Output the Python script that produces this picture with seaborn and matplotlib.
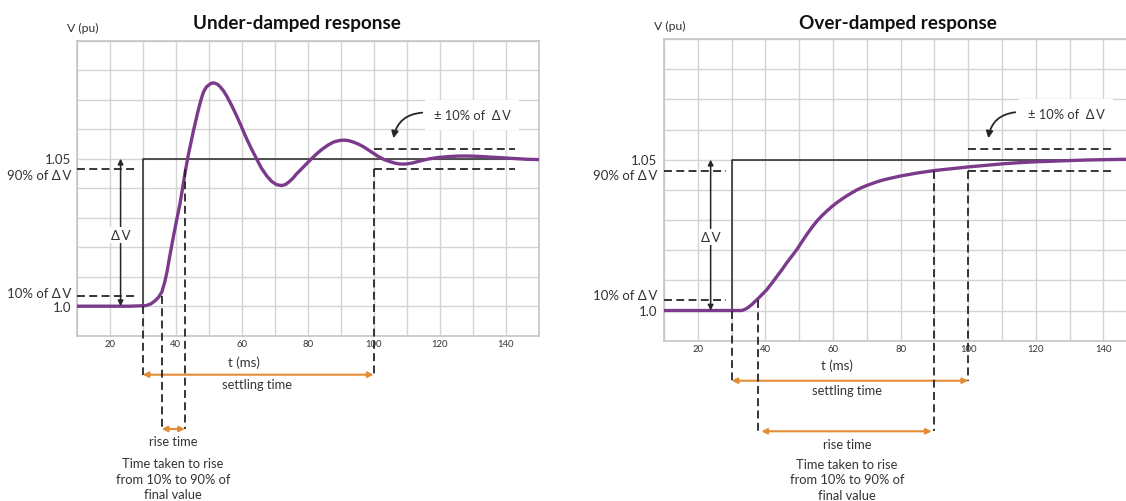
import numpy as np
import matplotlib
matplotlib.use("Agg")
import matplotlib.pyplot as plt
import seaborn as sns

# ---------------- data ----------------
t_under = [10, 20, 26, 31, 32.5, 33.7, 34.8, 35.8, 36.6, 37.3, 38.3, 39.3, 40.3, 41.3,
           42.1, 42.8, 43.8, 45.4, 46.9, 47.7, 48.4, 49.3, 50.4, 51.2, 51.9, 52.7,
           53.4, 54.5, 55.5, 57, 58.5, 60, 61.5, 63, 64.5, 66, 67.6, 69, 70.6, 72.1,
           73.2, 74.1, 75.4, 76.7, 78.2, 79.7, 81.2, 82.7, 84.5, 86.3, 88, 89.8,
           91.2, 92.5, 94, 95.5, 97, 98.5, 100, 101.5, 103.2, 105, 106.5, 108,
           109.8, 111.6, 114, 116.6, 119.6, 122.6, 125.6, 128.6, 131.6, 134.6,
           137.6, 140.6, 143.6, 146.6, 150]
v_under = [1.0, 1.0, 1.0, 1.0002, 1.0008, 1.0018, 1.003, 1.0048, 1.0078, 1.0112,
           1.0175, 1.0235, 1.0292, 1.0347, 1.04, 1.0449, 1.0511, 1.0595, 1.0667,
           1.07, 1.0725, 1.0743, 1.0753, 1.0757, 1.0756, 1.0752, 1.0745, 1.073,
           1.0712, 1.068, 1.0645, 1.0607, 1.0568, 1.0533, 1.05, 1.0468, 1.0442,
           1.0424, 1.0412, 1.0409, 1.0412, 1.0419, 1.0432, 1.0449, 1.0466, 1.0483,
           1.05, 1.0516, 1.0533, 1.0547, 1.0557, 1.0562, 1.0563, 1.0561, 1.0556,
           1.0549, 1.054, 1.0529, 1.0518, 1.0507, 1.0497, 1.049, 1.0485, 1.0482,
           1.0482, 1.0485, 1.0492, 1.0499, 1.0504, 1.0507, 1.0509, 1.0509, 1.0508,
           1.0506, 1.0504, 1.0502, 1.05, 1.0498, 1.0497]

t_over = [10, 20, 30, 33, 34, 35, 36, 37, 37.7, 39, 40.4, 42, 43.4, 45, 46.3, 47.8,
          49.3, 50.8, 52.3, 53.8, 55.2, 56.7, 58.2, 59.7, 61.2, 62.7, 64.2, 65.7,
          67.1, 68.6, 70.1, 71.6, 73.1, 74.6, 76, 78, 80, 82.5, 85, 87.5, 90, 95,
          100, 105, 110, 115, 120, 125, 130, 135, 140, 145, 150]
v_over = [1.0, 1.0, 1.0, 1.0, 1.0004, 1.0011, 1.002, 1.0031, 1.0038, 1.0053, 1.0069,
          1.0092, 1.0113, 1.0137, 1.0158, 1.018, 1.0202, 1.0228, 1.0253, 1.0276,
          1.0296, 1.0314, 1.033, 1.0345, 1.0358, 1.037, 1.0381, 1.0391, 1.04,
          1.0408, 1.0415, 1.0421, 1.0427, 1.0432, 1.0436, 1.0441, 1.0446, 1.0451,
          1.0456, 1.046, 1.0464, 1.047, 1.0476, 1.0481, 1.0486, 1.049, 1.0493,
          1.0495, 1.0497, 1.0499, 1.05, 1.0501, 1.0501]

t_step = [10, 30, 30, 150]
v_step = [1.0, 1.0, 1.05, 1.05]

x_ticks = [10, 20, 30, 40, 50, 60, 70, 80, 90, 100, 110, 120, 130, 140, 150]
x_ticklabels = ["", "20", "", "40", "", "60", "", "80", "", "100", "", "120", "", "140", ""]
y_grid = [0.99, 1.0, 1.01, 1.02, 1.03, 1.04, 1.05, 1.06, 1.07, 1.08, 1.09]
DV = "\u0394\u2009V"
y_labels = ["1.05", "90% of " + DV, "10% of " + DV, "1.0"]
expl_lines = ["Time taken to rise", "from 10% to 90% of", "final value"]

level_10 = 1.0036
level_90 = 1.0464
band_hi = 1.0534
step_t = 30
settle_t = 100
band_end = 143
rise_under = (35.8, 42.8)
rise_over = (37.7, 90.0)

# ---------------- style ----------------
sns.set_theme(style="white")
plt.rcParams["font.family"] = ["Lato", "DejaVu Sans"]

W, H = 1126, 502
PURPLE = "#7b3a8c"
ORANGE = "#e38b35"
DARK = "#262626"
TXT = "#333333"
GRID = "#d4d4d4"
DASH = (0, (4.4, 2.4))

fig = plt.figure(figsize=(W / 100, H / 100), dpi=100)


def rect(l, t, r, b):
    return [l / W, 1 - b / H, (r - l) / W, (b - t) / H]


def fp(px, py):
    return (px / W, 1 - py / H)


def ydata(ax, py):
    return ax.transData.inverted().transform((0, H - py))[1]


axL = fig.add_axes(rect(76.7, 41.7, 538.5, 336.7))
axR = fig.add_axes(rect(664, 40, 664 + 140 * 3.38, 341.7))


def base(ax, t, v):
    ax.set_xlim(10, 150)
    ax.set_ylim(0.99, 1.09)
    ax.set_xticks(x_ticks)
    ax.set_xticklabels(x_ticklabels, fontsize=6.8, color=TXT)
    ax.set_yticks(y_grid)
    ax.set_yticklabels([])
    ax.tick_params(length=0, pad=2.5)
    ax.grid(True, color=GRID, lw=1.0)
    for s in ax.spines.values():
        s.set_color("#c6c6c6")
        s.set_linewidth(1.2)
    sns.lineplot(x=t_step, y=v_step, ax=ax, color=DARK, linewidth=1.1,
                 sort=False, estimator=None, zorder=3)
    sns.lineplot(x=t, y=v, ax=ax, color=PURPLE, linewidth=2.4, sort=False,
                 estimator=None, zorder=4, solid_capstyle="round",
                 solid_joinstyle="round")
    ax.set_xlabel("")
    ax.set_ylabel("")


base(axL, t_under, v_under)
base(axR, t_over, v_over)


def dash(ax, xs, ys):
    ax.plot(xs, ys, color=DARK, lw=1.3, linestyle=DASH, clip_on=False, zorder=5)


def panel(ax, rise, dv_t, lvl_end, ypx, title, title_x, lab_r, lab_y, vpu, dvlab,
          pm_txt, pm_arrow):
    dash(ax, [10, lvl_end], [level_90, level_90])
    dash(ax, [10, lvl_end], [level_10, level_10])
    dash(ax, [settle_t, band_end], [band_hi, band_hi])
    dash(ax, [settle_t, band_end], [level_90, level_90])
    y_settle = ydata(ax, ypx["settle"])
    y_rise = ydata(ax, ypx["rise"])
    dash(ax, [step_t, step_t], [1.0, y_settle])
    dash(ax, [settle_t, settle_t], [level_90, y_settle])
    dash(ax, [rise[0], rise[0]], [level_10, y_rise])
    dash(ax, [rise[1], rise[1]], [level_90, y_rise])
    ax.annotate("", xy=(dv_t, 1.05), xytext=(dv_t, 1.0), zorder=6,
                arrowprops=dict(arrowstyle="<|-|>", color=DARK, lw=1.1,
                                mutation_scale=8, shrinkA=0, shrinkB=0))
    fig.text(*fp(*dvlab), DV, fontsize=9.5, color=TXT, ha="center",
             va="center", zorder=7,
             bbox=dict(facecolor="white", edgecolor="none", pad=1.2))
    ax.annotate("", xy=(settle_t, y_settle), xytext=(step_t, y_settle),
                annotation_clip=False,
                arrowprops=dict(arrowstyle="<|-|>", color=ORANGE, lw=1.5,
                                mutation_scale=8, shrinkA=0, shrinkB=0))
    ax.annotate("", xy=(ypx["rise_x"][1], y_rise), xytext=(ypx["rise_x"][0], y_rise),
                annotation_clip=False,
                arrowprops=dict(arrowstyle="<|-|>", color=ORANGE, lw=1.5,
                                mutation_scale=8, shrinkA=0, shrinkB=0))
    fig.text(*fp(ypx["settle_txt_x"], ypx["settle"] + 9), "settling time",
             fontsize=9.3, color=TXT, ha="center", va="center")
    fig.text(*fp(ypx["rise_txt_x"], ypx["rise"] + 12.5), "rise time",
             fontsize=9.3, color=TXT, ha="center", va="center")
    for i, line in enumerate(expl_lines):
        fig.text(*fp(ypx["rise_txt_x"], ypx["expl"] + 15.5 * i), line,
                 fontsize=9.3, color=TXT, ha="center", va="center")
    fig.text(*fp(ypx["t_x"], ypx["t_y"]), "t (ms)", fontsize=9.5, color=TXT,
             ha="center", va="center")
    fig.text(*fp(title_x, 23), title, fontsize=13.6, fontweight="bold",
             color="#111111", ha="center", va="center")
    fig.text(*fp(*vpu), "V (pu)", fontsize=8.8, color=TXT, ha="center", va="center")
    for lab, yy in zip(y_labels, lab_y):
        fig.text(*fp(lab_r, yy), lab, fontsize=9.5, color=TXT, ha="right",
                 va="center")
    fig.text(*fp(*pm_txt), "\u00b1 10% of  " + DV, fontsize=9.3, color=TXT,
             ha="center", va="center", zorder=7,
             bbox=dict(facecolor="white", edgecolor="none",
                       boxstyle="square,pad=0.7"))
    fig.add_artist(matplotlib.patches.FancyArrowPatch(
        fp(*pm_arrow[0]), fp(*pm_arrow[1]), transform=fig.transFigure,
        connectionstyle="arc3,rad=0.42", arrowstyle="-|>", mutation_scale=10,
        color=DARK, lw=1.3, zorder=8))


panel(axL, rise_under, 23.3, 28.5,
      dict(settle=375.7, rise=430.0, rise_x=rise_under, settle_txt_x=257,
           rise_txt_x=173, t_x=244, t_y=362.5, expl=464.5),
      "Under-damped response", 297, 71, [160, 176.5, 294, 307.7], (83, 28),
      (121, 236), (472, 116), ((425, 113.5), (393, 142)))

panel(axR, rise_over, 23.8, 28.3,
      dict(settle=381.7, rise=432.3, rise_x=(38.8, 89.2), settle_txt_x=847,
           rise_txt_x=847, t_x=837, t_y=366, expl=465),
      "Over-damped response", 898, 657, [161, 176.5, 296, 312.3], (670, 26),
      (711, 238), (1066, 115), ((1018, 113), (988, 142)))

fig.savefig("out.png", dpi=100)
